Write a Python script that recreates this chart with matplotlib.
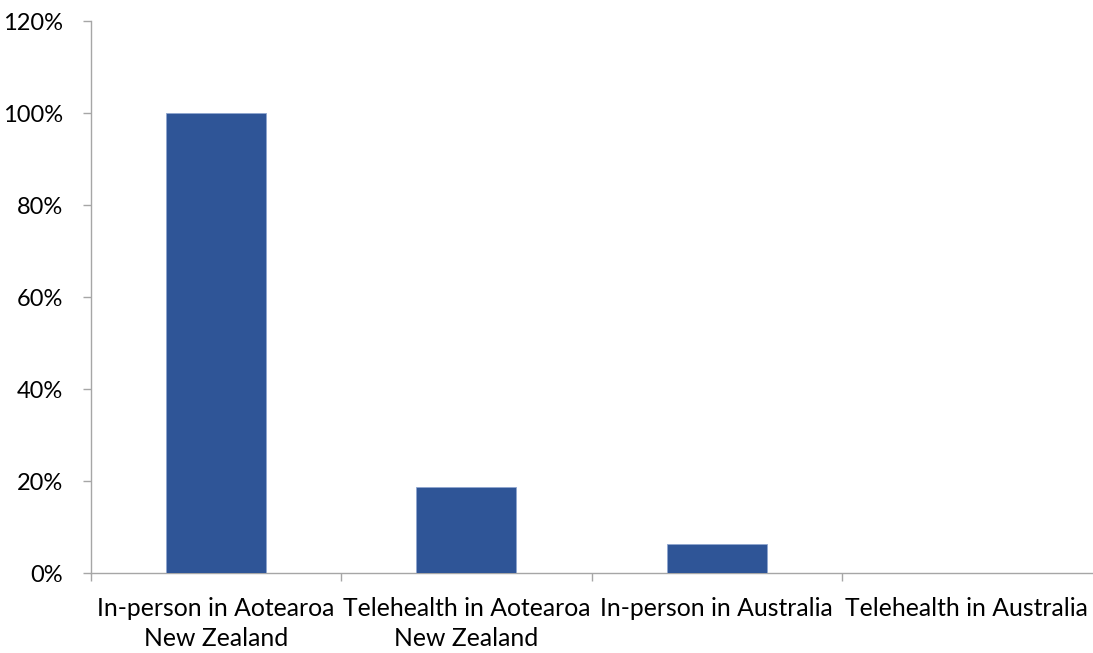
import matplotlib
matplotlib.use("Agg")
import matplotlib.pyplot as plt
from matplotlib.ticker import FuncFormatter

categories = ["In-person in Aotearoa\nNew Zealand", "Telehealth in Aotearoa\nNew Zealand",
              "In-person in Australia", "Telehealth in Australia"]
values = [100, 18.8, 6.3, 0]
yticks = [0, 20, 40, 60, 80, 100, 120]

plt.rcParams['font.family'] = ['Lato', 'DejaVu Sans']
fig = plt.figure(figsize=(10.93, 6.53), dpi=100)
ax = fig.add_axes([91/1093, 1-573/653, 1001/1093, (573-21)/653])

x = list(range(len(categories)))
ax.bar(x, values, width=0.4, color='#2F5597', edgecolor='#8FA6CF', linewidth=0.6, zorder=3)

ax.set_xlim(-0.5, 3.5)
ax.set_ylim(0, 120)
ax.set_yticks(yticks)
ax.yaxis.set_major_formatter(FuncFormatter(lambda v, p: f"{v:.0f}%"))
ax.set_xticks(x)
ax.set_xticklabels(categories, fontsize=17.8, linespacing=1.38)
ax.set_xticks([-0.5, 0.5, 1.5, 2.5], minor=True)
ax.tick_params(axis='x', which='major', length=0, pad=17)
ax.tick_params(axis='x', which='minor', length=6, color='#A6A6A6', width=1)
ax.tick_params(axis='y', length=6, color='#A6A6A6', width=1, labelsize=17, pad=14)

for s in ['top', 'right']:
    ax.spines[s].set_visible(False)
for s in ['left', 'bottom']:
    ax.spines[s].set_color('#A6A6A6')
    ax.spines[s].set_linewidth(1)

fig.savefig("out.png", dpi=100)
